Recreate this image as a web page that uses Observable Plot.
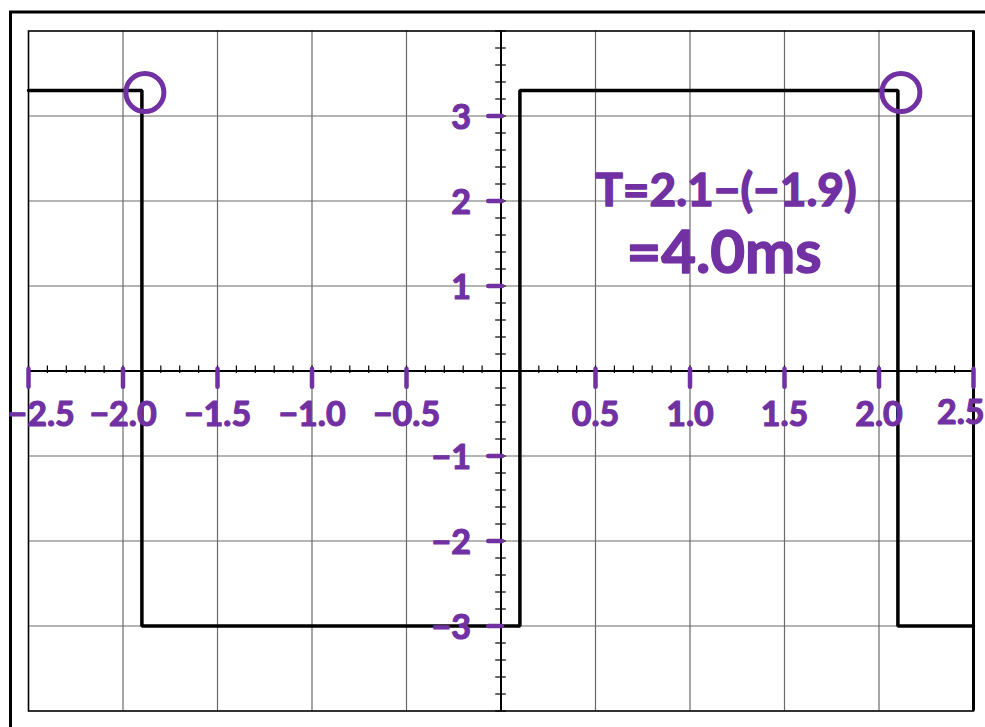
<!DOCTYPE html>
<html>
<head>
<meta charset="utf-8">
<script src="https://cdn.jsdelivr.net/npm/d3@7"></script>
<script src="https://cdn.jsdelivr.net/npm/@observablehq/plot@0.6"></script>
<style>
  html, body { margin: 0; padding: 0; background: #fff; overflow: hidden; }
</style>
</head>
<body>
<div id="chart"></div>
<script>
// Square wave: each level holds from its edge time until the next edge (ms, V)
const edgeTimes  = [-2.5, -1.9, 0.1, 2.1, 2.5];
const edgeLevels = [3.3, -3.0, 3.3, -3.0, -3.0];

// Hand-marked divisions along the centre axes
const timeMarks  = [-2.5, -2.0, -1.5, -1.0, -0.5, 0.5, 1.0, 1.5, 2.0, 2.5];
const timeLabels = ["−2.5", "−2.0", "−1.5", "−1.0", "−0.5", "0.5", "1.0", "1.5", "2.0", "2.5"];
const voltMarks  = [3, 2, 1, -1, -2, -3];
const voltLabels = ["3", "2", "1", "−1", "−2", "−3"];

// Graticule: major divisions and the minor ticks on the centre axes
const gridTimes  = [-2.0, -1.5, -1.0, -0.5, 0.5, 1.0, 1.5, 2.0];
const gridVolts  = [-3, -2, -1, 1, 2, 3];
const minorTimes = d3.range(-25, 26).map(i => i / 10);
const minorVolts = d3.range(-20, 21).map(i => i / 5);

// Rising/falling edges circled for the period reading
const circledTimes  = [-1.9, 2.1];
const circledLevels = [3.3, 3.3];

// Period working, written on the screen
const noteLines = ["T=2.1−(−1.9)", "=4.0ms"];
const noteTime  = [1.19, 1.18];
const noteVolt  = [2.12, 1.38];

const purple = "#7131a3";
const hand = "Lato, 'Open Sans', sans-serif";
const wave = edgeTimes.map((t, i) => ({t, v: edgeLevels[i]}));
const timeTicks = timeMarks.map((t, i) => ({t, label: timeLabels[i]}));
const last = timeTicks.length - 1;

const labelStyle = {
  fill: purple, stroke: purple, strokeWidth: 1.2,
  fontSize: 34, fontFamily: hand, fontWeight: 700
};

const chart = Plot.plot({
  width: 985,
  height: 727,
  marginLeft: 28,
  marginRight: 12,
  marginTop: 30.5,
  marginBottom: 16.5,
  style: {background: "white", overflow: "visible"},
  x: {domain: [-2.5, 2.5], axis: null},
  y: {domain: [-4, 4], axis: null},
  marks: [
    // outer bezel
    Plot.frame({stroke: "black", strokeWidth: 3, insetLeft: -18, insetTop: -19, insetRight: -60, insetBottom: -60}),
    // graticule
    Plot.ruleX(gridTimes, {stroke: "#6a6a6a", strokeWidth: 1.2}),
    Plot.ruleY(gridVolts, {stroke: "#6a6a6a", strokeWidth: 1.2}),
    Plot.frame({stroke: "black", strokeWidth: 1.6}),
    Plot.ruleX([2.5], {stroke: "black", strokeWidth: 3}),
    // centre axes with minor ticks
    Plot.ruleX([0], {stroke: "black", strokeWidth: 2}),
    Plot.ruleY([0], {stroke: "black", strokeWidth: 2}),
    Plot.ruleX(minorTimes, {x: d => d, y1: -0.03, y2: 0.06, stroke: "black", strokeWidth: 1.2}),
    Plot.ruleY(minorVolts, {y: d => d, x1: -0.028, x2: 0.028, stroke: "black", strokeWidth: 1.2}),
    // the trace
    Plot.line(wave, {x: "t", y: "v", curve: "step-after", stroke: "black", strokeWidth: 3.5, strokeLinejoin: "miter"}),
    // hand-drawn marks and labels
    Plot.ruleX(timeMarks, {x: d => d, y1: 0.02, y2: -0.19, stroke: purple, strokeWidth: 4.5, strokeLinecap: "round"}),
    Plot.ruleY(voltMarks, {y: d => d, x1: -0.065, x2: 0.008, stroke: purple, strokeWidth: 4.5, strokeLinecap: "round"}),
    Plot.text(timeTicks.slice(0, 1), {x: "t", y: 0, text: "label", dy: 44, dx: -21, textAnchor: "start", ...labelStyle}),
    Plot.text(timeTicks.slice(1, last), {x: "t", y: 0, text: "label", dy: 44, ...labelStyle}),
    Plot.text(timeTicks.slice(last), {x: "t", y: 0, text: "label", dy: 42, dx: 11, textAnchor: "end", ...labelStyle}),
    Plot.text(voltMarks, {
      x: 0, y: d => d, text: (d, i) => voltLabels[i], dx: -30, dy: 2, textAnchor: "end",
      ...labelStyle
    }),
    Plot.dot(circledTimes, {
      x: d => d, y: (d, i) => circledLevels[i], r: 19, dx: 3, dy: 2,
      fill: "none", stroke: purple, strokeWidth: 5
    }),
    Plot.text([noteLines[0]], {
      x: noteTime[0], y: noteVolt[0], text: d => d,
      ...labelStyle, strokeWidth: 1.5, fontSize: 46
    }),
    Plot.text([noteLines[1]], {
      x: noteTime[1], y: noteVolt[1], text: d => d,
      ...labelStyle, strokeWidth: 1.5, fontSize: 60
    })
  ]
});

document.getElementById("chart").append(chart);
</script>
</body>
</html>
